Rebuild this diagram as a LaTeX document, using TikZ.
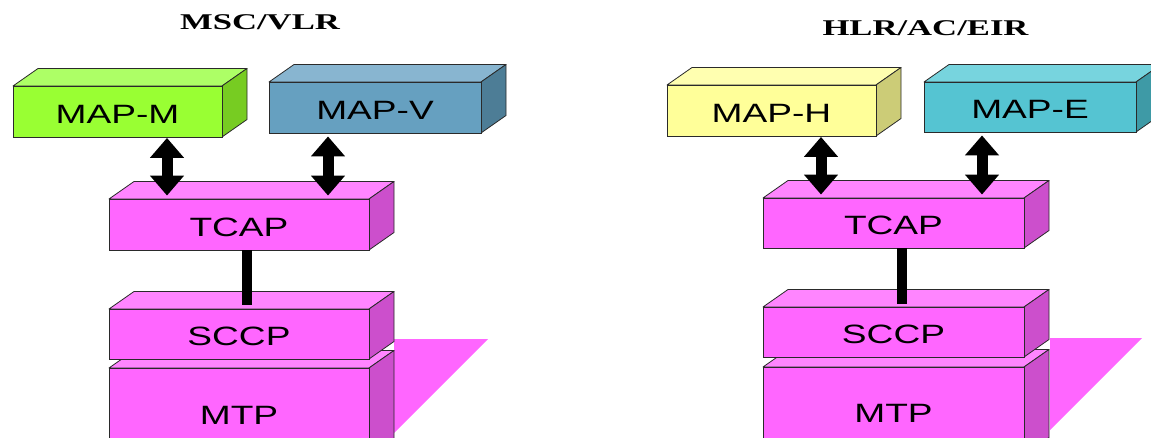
\documentclass[tikz,border=0pt]{standalone}
\usepackage{fontspec}
\usepackage{graphicx}
\setmainfont{Liberation Sans}
\newfontfamily\ttlfont{Liberation Serif}
\usetikzlibrary{arrows.meta}
\definecolor{magF}{HTML}{FF66FF}
\definecolor{magT}{HTML}{FF85FF}
\definecolor{magS}{HTML}{CC4FCC}
\definecolor{grnF}{HTML}{99FF33}
\definecolor{grnT}{HTML}{ADFF66}
\definecolor{grnS}{HTML}{77CC22}
\definecolor{bluF}{HTML}{66A0C0}
\definecolor{bluT}{HTML}{88B5D0}
\definecolor{bluS}{HTML}{4D7D96}
\definecolor{yelF}{HTML}{FFFF99}
\definecolor{yelT}{HTML}{FFFFB0}
\definecolor{yelS}{HTML}{CCCC77}
\definecolor{cyaF}{HTML}{55C4D2}
\definecolor{cyaT}{HTML}{77D4DE}
\definecolor{cyaS}{HTML}{3E9AA6}
\definecolor{edgec}{HTML}{2A2A2A}
\tikzset{
  facet/.style={draw=edgec, line width=0.8pt, line join=round},
  frontface/.style={rectangle, draw=edgec, line width=0.9pt, inner sep=0pt},
  boxtext/.style={inner sep=0pt, font=\fontsize{26.5}{30}\selectfont, text=black},
  ttl/.style={inner sep=0pt, anchor=base, font=\ttlfont\bfseries\fontsize{22.5}{26}\selectfont},
  dbl/.style={line width=11pt, {Triangle[width=33pt 0 1,length=20pt 0 1]}-{Triangle[width=33pt 0 1,length=20pt 0 1]}},
  link/.style={line width=10pt},
  shadowfill/.style={fill=magF}
}
% #1 name, #2 x1, #3 y1, #4 x2, #5 y2, #6 front, #7 top, #8 side, #9 text
\newcommand{\slab}[9]{%
  \filldraw[facet, fill=#7] (#2,#3) -- (#2+25,#3-17.5) -- (#4+25,#3-17.5) -- (#4,#3) -- cycle;
  \filldraw[facet, fill=#8] (#4,#3) -- (#4+25,#3-17.5) -- (#4+25,#5-17.5) -- (#4,#5) -- cycle;
  \node[frontface, fill=#6, minimum width={(#4-#2)*1pt}, minimum height={(#5-#3)*1pt}] (#1) at ({(#2+#4)/2},{(#3+#5)/2}) {};
  \node[boxtext] at ([yshift=-2.5pt]#1.center) {\scalebox{1.4}[1]{#9}};
}
\begin{document}
\begin{tikzpicture}[x=1pt,y=-1pt]
\useasboundingbox (0,0) rectangle (1151,438);
\clip (0,0) rectangle (1151,438);
% titles
\node[ttl] (t1) at (260,29.5) {\scalebox{1.54}[1]{MSC/VLR}};
\node[ttl] (t2) at (925.5,36) {\scalebox{1.54}[1]{HLR/AC/EIR}};
% shadows
\fill[shadowfill] (394,339) -- (488,339) -- (394,433) -- cycle;
\fill[shadowfill] (1050,338) -- (1142,338) -- (1050,430) -- cycle;
% left stack
\slab{mtpL}{109}{368}{369}{458}{magF}{magT}{magS}{MTP}
\slab{sccpL}{109}{309}{369}{359}{magF}{magT}{magS}{SCCP}
\slab{tcapL}{109}{199}{369}{250}{magF}{magT}{magS}{TCAP}
\slab{mapmL}{13}{86}{222}{137}{grnF}{grnT}{grnS}{MAP-M}
\slab{mapvL}{269}{82}{481}{133}{bluF}{bluT}{bluS}{MAP-V}
% right stack
\slab{mtpR}{763}{367}{1024}{455}{magF}{magT}{magS}{MTP}
\slab{sccpR}{763}{307}{1024}{357}{magF}{magT}{magS}{SCCP}
\slab{tcapR}{763}{198}{1024}{248}{magF}{magT}{magS}{TCAP}
\slab{maphR}{667}{85}{876}{136}{yelF}{yelT}{yelS}{MAP-H}
\slab{mapeR}{924}{82}{1136}{132}{cyaF}{cyaT}{cyaS}{MAP-E}
% links
\draw[link] ([xshift=8pt]tcapL.south) -- ([xshift=8pt,yshift=4pt]sccpL.north);
\draw[link] ([xshift=8.5pt]tcapR.south) -- ([xshift=8.5pt,yshift=3pt]sccpR.north);
% arrows
\draw[dbl] ([xshift=49.5pt,yshift=-0.5pt]mapmL.south) -- ([xshift=-72pt,yshift=3pt]tcapL.north);
\draw[dbl] ([xshift=-47pt,yshift=-3pt]mapvL.south) -- ([xshift=89pt,yshift=3pt]tcapL.north);
\draw[dbl] ([xshift=49.5pt,yshift=-0.5pt]maphR.south) -- ([xshift=-72.5pt,yshift=3pt]tcapR.north);
\draw[dbl] ([xshift=-48pt,yshift=-3pt]mapeR.south) -- ([xshift=88.5pt,yshift=3pt]tcapR.north);
\end{tikzpicture}
\end{document}
